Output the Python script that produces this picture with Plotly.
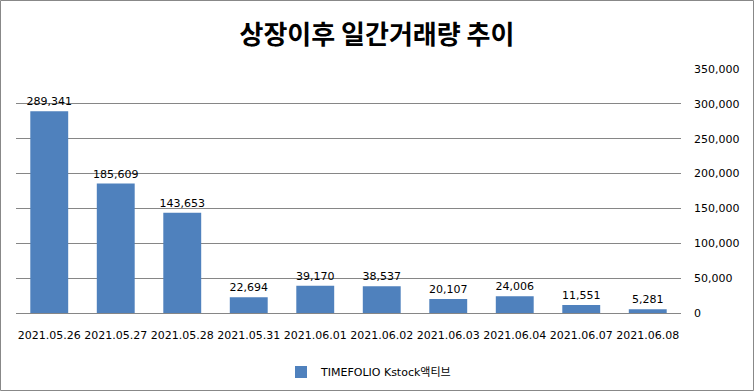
import plotly.graph_objects as go

dates = ["2021.05.26", "2021.05.27", "2021.05.28", "2021.05.31", "2021.06.01",
         "2021.06.02", "2021.06.03", "2021.06.04", "2021.06.07", "2021.06.08"]
volumes = [289341, 185609, 143653, 22694, 39170, 38537, 20107, 24006, 11551, 5281]
series_name = "TIMEFOLIO Kstock액티브"
title_text = "상장이후 일간거래량 추이"
y_ticks = [0, 50000, 100000, 150000, 200000, 250000, 300000, 350000]

W, H = 754, 391
L, R, T, B = 16, 681, 69, 313

def px_x(p):
    return (p - L) / (R - L)

def px_y(p):
    return (B - p) / (B - T)

font_main = "DejaVu Sans, Noto Sans CJK KR, sans-serif"

fig = go.Figure()
fig.add_trace(go.Bar(
    x=dates, y=volumes, name=series_name,
    marker=dict(color="#4F81BD", line=dict(width=0)),
    text=[f"{v:,}" for v in volumes], textposition="outside",
    textfont=dict(size=11, color="#000000", family=font_main),
    constraintext="none",
    cliponaxis=False, width=0.57,
))

fig.update_layout(
    width=W, height=H,
    margin=dict(l=L, r=W - R, t=T, b=H - B, pad=0, autoexpand=False),
    paper_bgcolor="white", plot_bgcolor="white",
    title=dict(text=f"<b>{title_text}</b>", x=0.5, xanchor="center", xref="container",
               y=1 - 35 / H, yanchor="middle",
               font=dict(size=26, family="Noto Sans CJK KR, sans-serif", color="#000000")),
    showlegend=True,
    legend=dict(orientation="h", x=px_x(369), xanchor="center", y=px_y(372), yanchor="middle",
                font=dict(size=11, family=font_main, color="#000000"),
                itemwidth=30),
    xaxis=dict(type="category", showgrid=False, showline=True, linecolor="#868686", linewidth=1,
               ticks="", tickfont=dict(size=11, family=font_main, color="#000000"),
               ticklabelstandoff=12, range=[-0.5, 9.5], automargin=False),
    yaxis=dict(side="right", range=[0, 350000], tickvals=y_ticks,
               ticktext=[f"{v:,}" for v in y_ticks],
               showgrid=True, gridcolor="#868686", gridwidth=1, zeroline=False,
               showline=False, ticks="",
               tickfont=dict(size=11, family=font_main, color="#000000"),
               ticklabelstandoff=12, automargin=False),
    bargap=0.43,
)

fig.add_shape(type="rect", xref="paper", yref="paper",
              x0=px_x(0.5), x1=px_x(W - 0.5), y0=px_y(H - 0.5), y1=px_y(0.5),
              line=dict(color="#888888", width=1), fillcolor="rgba(0,0,0,0)", layer="above")

fig.write_html("out.html", config={"displayModeBar": False},
               post_script="document.body.style.margin='0';document.body.style.overflow='hidden';")
